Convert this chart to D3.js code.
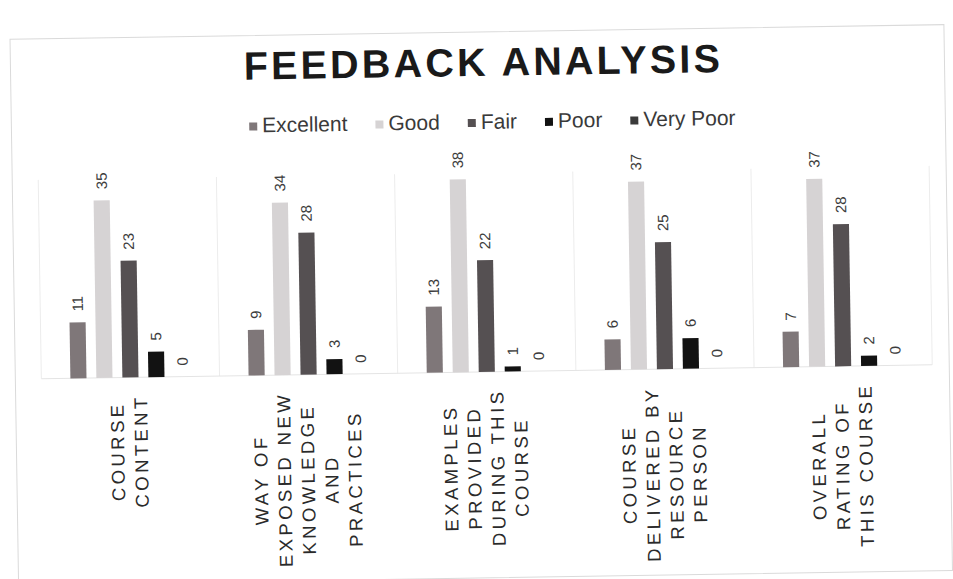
<!DOCTYPE html>
<html>
<head>
<meta charset="utf-8">
<script src="https://cdn.jsdelivr.net/npm/d3@7"></script>
<style>
  body { margin: 0; background: #fff; }
  svg { display: block; font-family: "Liberation Sans", Arial, sans-serif; }
</style>
</head>
<body>
<div id="vis"></div>
<script>
// chart values
var categoryLines = [
    ["COURSE", "CONTENT"],
    ["WAY OF", "EXPOSED NEW", "KNOWLEDGE", "AND", "PRACTICES"],
    ["EXAMPLES", "PROVIDED", "DURING THIS", "COURSE"],
    ["COURSE", "DELIVERED BY", "RESOURCE", "PERSON"],
    ["OVERALL", "RATING OF", "THIS COURSE"]
];
var series = ["Excellent", "Good", "Fair", "Poor", "Very Poor"];
var excellent = [11, 9, 13, 6, 7];
var good = [35, 34, 38, 37, 37];
var fair = [23, 28, 22, 25, 28];
var poor = [5, 3, 1, 6, 2];
var veryPoor = [0, 0, 0, 0, 0];
var seriesValues = [excellent, good, fair, poor, veryPoor];

var colors = ["#7f7779", "#d6d3d4", "#555052", "#121212", "#3a3a3a"];

var W = 953, H = 579;
var plot = {left: 40, right: 931, top: 169, bottom: 372};

var svg = d3.select("#vis")
    .append("svg")
    .attr("width", W)
    .attr("height", H);

// the scan is tilted a little
var g = svg.append("g")
    .attr("transform", "rotate(-0.9," + W / 2 + "," + H / 2 + ")");

// frame
g.append("rect")
    .attr("x", 14).attr("y", 32)
    .attr("width", 934).attr("height", 546)
    .attr("fill", "none")
    .attr("stroke", "#dadada");

var cats = categoryLines.map(function (d, i) { return i; });

var x0 = d3.scaleBand()
    .domain(cats)
    .range([plot.left, plot.right]);

var x1 = d3.scaleBand()
    .domain(series)
    .range([-65, 65])
    .paddingInner(0.38)
    .paddingOuter(0.19);

var y = d3.scaleLinear()
    .domain([0, 40])
    .range([plot.bottom, plot.top]);

// vertical gridlines between categories
var bounds = cats.map(function (c) { return x0(c); }).concat([plot.right]);
g.selectAll("line.grid")
    .data(bounds)
    .enter()
    .append("line")
    .attr("class", "grid")
    .attr("x1", function (d) { return d; })
    .attr("x2", function (d) { return d; })
    .attr("y1", plot.top + 4)
    .attr("y2", plot.bottom)
    .attr("stroke", "#ececec");

g.append("line")
    .attr("x1", plot.left).attr("x2", plot.right)
    .attr("y1", plot.bottom).attr("y2", plot.bottom)
    .attr("stroke", "#e4e4e4");

// bars
var groups = g.selectAll("g.cat")
    .data(cats)
    .enter()
    .append("g")
    .attr("class", "cat")
    .attr("transform", function (c) {
        return "translate(" + (x0(c) + x0.bandwidth() / 2) + ",0)";
    });

var cells = groups.selectAll("g.cell")
    .data(function (c) {
        return series.map(function (s, k) {
            return {s: s, k: k, v: seriesValues[k][c]};
        });
    })
    .enter()
    .append("g")
    .attr("class", "cell");

cells.append("rect")
    .attr("x", function (d) { return x1(d.s); })
    .attr("y", function (d) { return y(d.v); })
    .attr("width", x1.bandwidth())
    .attr("height", function (d) { return y(0) - y(d.v); })
    .attr("fill", function (d) { return colors[d.k]; });

cells.append("text")
    .attr("transform", function (d) {
        return "translate(" + (x1(d.s) + x1.bandwidth() / 2) + "," + (y(d.v) - 11) + ") rotate(-90)";
    })
    .attr("dominant-baseline", "central")
    .attr("text-anchor", "start")
    .attr("font-size", 15)
    .attr("fill", "#3c3c3c")
    .text(function (d) { return d.v; });

// category labels, rotated, lines centred on the longest one
var labelTop = plot.bottom + 17;
var lineStep = 23.5;

groups.each(function (c) {
    var lines = categoryLines[c];
    var grp = d3.select(this).append("g");
    var texts = grp.selectAll("text")
        .data(lines)
        .enter()
        .append("text")
        .attr("font-size", 18.5)
        .attr("letter-spacing", "3.4px")
        .attr("fill", "#2a2a2a")
        .attr("text-anchor", "middle")
        .attr("dominant-baseline", "central")
        .text(function (d) { return d; });
    var maxLen = 0;
    texts.each(function () { maxLen = Math.max(maxLen, this.getComputedTextLength()); });
    var cy = labelTop + maxLen / 2;
    var off = (lines.length - 1) / 2;
    texts.attr("transform", function (d, i) {
        return "translate(" + ((i - off) * lineStep - 2) + "," + cy + ") rotate(-90)";
    });
});

// title
g.append("text")
    .attr("x", 487)
    .attr("y", 76)
    .attr("text-anchor", "middle")
    .attr("font-size", 39.5)
    .attr("font-weight", "bold")
    .attr("letter-spacing", "3.2px")
    .attr("fill", "#1a1a1a")
    .text("FEEDBACK ANALYSIS");

// legend
var legend = g.append("g");
var items = legend.selectAll("g")
    .data(series)
    .enter()
    .append("g");

items.append("rect")
    .attr("width", 8)
    .attr("height", 8)
    .attr("y", 119)
    .attr("fill", function (d, i) { return colors[i]; });

items.append("text")
    .attr("x", 13)
    .attr("y", 129)
    .attr("font-size", 21)
    .attr("fill", "#3a3a3a")
    .text(function (d) { return d; });

var pos = 0, offsets = [];
items.each(function () {
    offsets.push(pos);
    pos += 13 + d3.select(this).select("text").node().getComputedTextLength() + 28;
});
var total = pos - 28;
var startX = 495 - total / 2;
items.attr("transform", function (d, i) {
    return "translate(" + (startX + offsets[i]) + ",0)";
});
</script>
</body>
</html>
